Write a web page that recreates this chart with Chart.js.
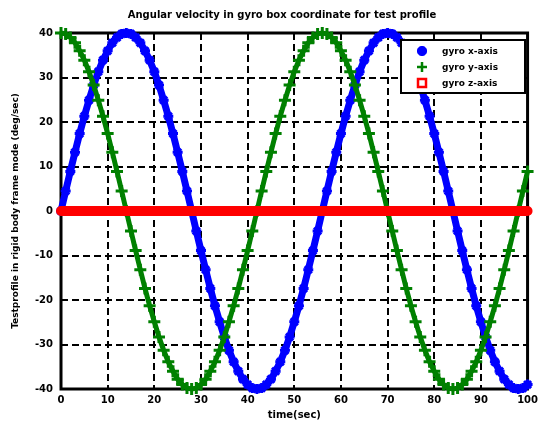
<!DOCTYPE html>
<html><head><meta charset="utf-8">
<script src="https://cdn.jsdelivr.net/npm/chart.js@4"></script>
<style>html,body{margin:0;padding:0;background:#fff}canvas{display:block}</style>
</head><body>
<canvas id="c" width="543" height="421"></canvas>
<script>
const times = [0,1,2,3,4,5,6,7,8,9,10,11,12,13,14,15,16,17,18,19,20,21,22,23,24,25,26,27,28,29,30,
31,32,33,34,35,36,37,38,39,40,41,42,43,44,45,46,47,48,49,50,51,52,53,54,55,56,57,58,59,60,
61,62,63,64,65,66,67,68,69,70,71,72,73,74,75,76,77,78,79,80,81,82,83,84,85,86,87,88,89,90,
91,92,93,94,95,96,97,98,99,100];
const gyroX = [0,4.5,8.9,13.2,17.4,21.3,24.9,28.3,31.3,33.9,36.0,37.8,39.0,39.8,40,
39.8,39.0,37.8,36.0,33.9,31.3,28.3,24.9,21.3,17.4,13.2,8.9,4.5,0,
-4.5,-8.9,-13.2,-17.4,-21.3,-24.9,-28.3,-31.3,-33.9,-36.0,-37.8,-39.0,-39.8,-40,
-39.8,-39.0,-37.8,-36.0,-33.9,-31.3,-28.3,-24.9,-21.3,-17.4,-13.2,-8.9,-4.5,0,
4.5,8.9,13.2,17.4,21.3,24.9,28.3,31.3,33.9,36.0,37.8,39.0,39.8,40,
39.8,39.0,37.8,36.0,33.9,31.3,28.3,24.9,21.3,17.4,13.2,8.9,4.5,0,
-4.5,-8.9,-13.2,-17.4,-21.3,-24.9,-28.3,-31.3,-33.9,-36.0,-37.8,-39.0,-39.8,-40,
-39.8,-39.0];
const gyroY = [40,39.8,39.0,37.8,36.0,33.9,31.3,28.3,24.9,21.3,17.4,13.2,8.9,4.5,0,
-4.5,-8.9,-13.2,-17.4,-21.3,-24.9,-28.3,-31.3,-33.9,-36.0,-37.8,-39.0,-39.8,-40,
-39.8,-39.0,-37.8,-36.0,-33.9,-31.3,-28.3,-24.9,-21.3,-17.4,-13.2,-8.9,-4.5,0,
4.5,8.9,13.2,17.4,21.3,24.9,28.3,31.3,33.9,36.0,37.8,39.0,39.8,40,
39.8,39.0,37.8,36.0,33.9,31.3,28.3,24.9,21.3,17.4,13.2,8.9,4.5,0,
-4.5,-8.9,-13.2,-17.4,-21.3,-24.9,-28.3,-31.3,-33.9,-36.0,-37.8,-39.0,-39.8,-40,
-39.8,-39.0,-37.8,-36.0,-33.9,-31.3,-28.3,-24.9,-21.3,-17.4,-13.2,-8.9,-4.5,0,
4.5,8.9];
const gyroZ = [0,0,0,0,0,0,0,0,0,0,0,0,0,0,0,0,0,0,0,0,0,0,0,0,0,0,0,0,0,0,
0,0,0,0,0,0,0,0,0,0,0,0,0,0,0,0,0,0,0,0,0,0,0,0,0,0,0,0,0,0,
0,0,0,0,0,0,0,0,0,0,0,0,0,0,0,0,0,0,0,0,0,0,0,0,0,0,0,0,0,0,
0,0,0,0,0,0,0,0,0,0,0];
const xTicks = [0,10,20,30,40,50,60,70,80,90,100];
const yTicks = [-40,-30,-20,-10,0,10,20,30,40];
const seriesNames = ['gyro x-axis','gyro y-axis','gyro z-axis'];
const chartTitle = 'Angular velocity in gyro box coordinate for test profile';
const xTitle = 'time(sec)';
const yTitle = 'Testprofile in rigid body frame mode (deg/sec)';

const FONT = 'DejaVu Sans';
const colors = ['#0000ff','#008000','#ff0000'];

function pts(vals){ return times.map((t,i)=>({x:t,y:vals[i]})); }

const decor = {
  id:'decor',
  beforeDatasetsDraw(chart){
    const {ctx, chartArea:a} = chart;
    ctx.save();
    ctx.strokeStyle='#000'; ctx.lineWidth=3;
    ctx.strokeRect(a.left, a.top, a.right-a.left, a.bottom-a.top);
    ctx.restore();
  },
  afterDraw(chart){
    const {ctx} = chart;
    ctx.save();
    ctx.fillStyle='#000';
    ctx.font = 'bold 10px '+FONT;
    ctx.textAlign='center'; ctx.textBaseline='middle';
    ctx.fillText(chartTitle, 282, 15);
    const lx=401, ly=40, lw=124, lh=53;
    ctx.fillStyle='#fff'; ctx.fillRect(lx,ly,lw,lh);
    ctx.strokeStyle='#000'; ctx.lineWidth=2; ctx.strokeRect(lx,ly,lw,lh);
    const rows=[51,67,83];
    ctx.font='bold 9px '+FONT; ctx.textAlign='left';
    rows.forEach((y,i)=>{
      const mx=422;
      ctx.strokeStyle=colors[i]; ctx.fillStyle=colors[i];
      if(i===0){
        ctx.lineWidth=3.5;
        ctx.beginPath();
        ctx.moveTo(mx-5,y);ctx.lineTo(mx+5,y);
        ctx.moveTo(mx,y-5);ctx.lineTo(mx,y+5);
        ctx.moveTo(mx-3.5,y-3.5);ctx.lineTo(mx+3.5,y+3.5);
        ctx.moveTo(mx-3.5,y+3.5);ctx.lineTo(mx+3.5,y-3.5);
        ctx.stroke();
      } else if(i===1){
        ctx.lineWidth=2.5;
        ctx.beginPath();
        ctx.moveTo(mx-5,y);ctx.lineTo(mx+5,y);
        ctx.moveTo(mx,y-5);ctx.lineTo(mx,y+5);
        ctx.stroke();
      } else {
        ctx.lineWidth=2.5;
        ctx.strokeRect(mx-4,y-4,8,8);
      }
      ctx.fillStyle='#000';
      ctx.fillText(seriesNames[i], 442, y+0.5);
    });
    ctx.restore();
  }
};

new Chart(document.getElementById('c'), {
  type:'line',
  data:{
    datasets:[
      {label:seriesNames[2], data:pts(gyroZ), borderColor:colors[2], backgroundColor:colors[2],
       borderWidth:10, pointStyle:'circle', pointRadius:4, pointBorderWidth:2, order:0, clip:8},
      {label:seriesNames[1], data:pts(gyroY), borderColor:colors[1], backgroundColor:colors[1],
       borderWidth:5, pointStyle:'cross', pointRadius:6, pointBorderWidth:3, order:1, clip:8},
      {label:seriesNames[0], data:pts(gyroX), borderColor:colors[0], backgroundColor:colors[0],
       borderWidth:7, pointStyle:'star', pointRadius:5, pointBorderWidth:3, order:2, clip:8}
    ]
  },
  options:{
    responsive:false, animation:false,
    layout:{padding:{top:33,right:12,left:0,bottom:0}},
    plugins:{legend:{display:false}, title:{display:false}, tooltip:{enabled:false}},
    scales:{
      x:{type:'linear', min:0, max:100,
        afterBuildTicks(s){ s.ticks = xTicks.map(v=>({value:v})); },
        afterFit(s){ s.height=32; },
        grid:{color:'#000', lineWidth:2, drawTicks:false},
        border:{display:false, dash:[7,4]},
        ticks:{color:'#000', padding:5, font:{family:FONT, size:10, weight:'bold'}, maxRotation:0},
        title:{display:true, text:xTitle, color:'#000', padding:{top:0,bottom:0}, font:{family:FONT,size:10,weight:'bold'}}
      },
      y:{type:'linear', min:-40, max:40,
        afterBuildTicks(s){ s.ticks = yTicks.map(v=>({value:v})); },
        afterFit(s){ s.width=61; },
        grid:{color:'#000', lineWidth:2, drawTicks:false},
        border:{display:false, dash:[7,4]},
        ticks:{color:'#000', padding:8, font:{family:FONT, size:10, weight:'bold'}},
        title:{display:true, text:yTitle, color:'#000', padding:{top:10,bottom:0}, font:{family:FONT,size:9,weight:'bold'}}
      }
    }
  },
  plugins:[decor]
});
</script>
</body></html>
